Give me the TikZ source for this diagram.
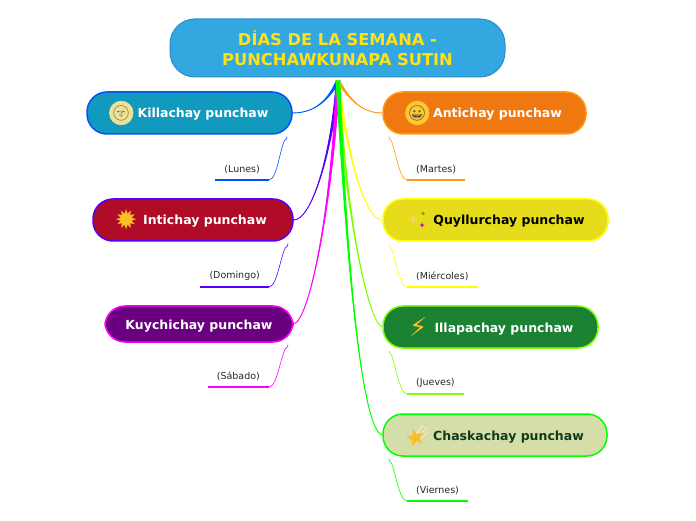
\documentclass[tikz,border=0pt]{standalone}
\usepackage{fontspec}
\setmainfont{DejaVu Sans}
\newfontfamily\emojifont{Noto Emoji}
\usetikzlibrary{calc,positioning}

\definecolor{rootblue}{RGB}{51,167,224}
\definecolor{rootedge}{RGB}{43,140,203}
\definecolor{rootgold}{RGB}{255,226,20}
\definecolor{lunesblue}{RGB}{0,85,255}
\definecolor{domingoviolet}{RGB}{85,0,255}
\definecolor{sabadopink}{RGB}{255,0,255}
\definecolor{martesorange}{RGB}{255,154,16}
\definecolor{miercolesyellow}{RGB}{255,255,0}
\definecolor{juevesgreen}{RGB}{128,255,0}
\definecolor{viernesgreen}{RGB}{0,255,0}
\definecolor{killafill}{RGB}{17,153,190}
\definecolor{intifill}{RGB}{176,12,40}
\definecolor{kuychifill}{RGB}{106,0,128}
\definecolor{antifill}{RGB}{240,120,16}
\definecolor{quyllurfill}{RGB}{230,220,28}
\definecolor{illapafill}{RGB}{27,130,51}
\definecolor{chaskafill}{RGB}{213,221,168}
\definecolor{chaskatext}{RGB}{15,59,26}
\definecolor{emojigold}{RGB}{250,190,40}
\definecolor{trailcream}{RGB}{245,232,170}

\tikzset{
  daypill/.style={draw, line width=1.5pt, rounded corners=20pt, minimum height=42, inner sep=0pt,
    text height=10pt, text depth=0pt, font=\fontsize{12.5}{15}\selectfont\bfseries},
  daynote/.style={inner xsep=9pt, inner ysep=6.2pt, text=black!85, font=\fontsize{9.5}{12}\selectfont},
  emojimark/.style={inner sep=0pt, font=\fontsize{20}{20}\selectfont},
  badge/.style={circle, inner sep=0pt, minimum size=21, font=\fontsize{15}{15}\selectfont\emojifont},
}
\newcommand{\spoke}[4]{\draw[#1, line width=.9pt, fill=#1] ($(hub)+(-1.8,0)$) .. controls (#3) and (#4) .. (#2) .. controls (#4) and (#3) .. ($(hub)+(1.8,0)$) -- cycle;}

\begin{document}
\begin{tikzpicture}[x=1pt,y=1pt]
  \useasboundingbox (0,0) rectangle (696,520);
  \coordinate (hub) at (338,439);

  \node[draw=rootedge, fill=rootblue, line width=1pt, rounded corners=25pt, minimum width=335, minimum height=58,
    align=center, text=rootgold, font=\fontsize{16.3}{20}\selectfont\bfseries] (root) at (337.5,472)
    {\raisebox{1pt}{DÍAS DE LA SEMANA -}\\\raisebox{1pt}{PUNCHAWKUNAPA SUTIN}};

  % left side
  \node[daypill, minimum width=205, draw=lunesblue, fill=killafill, text=white] (killa) at (189.5,407) {\hspace*{27pt}Killachay punchaw};
  \node[daypill, minimum width=200, draw=domingoviolet, fill=intifill, text=white] (inti) at (193,300) {\hspace*{24pt}Intichay punchaw};
  \node[daypill, minimum width=188, minimum height=36, draw=sabadopink, fill=kuychifill, text=white] (kuychi) at (199,196) {Kuychichay punchaw};

  % right side
  \node[daypill, minimum width=203, draw=martesorange, fill=antifill, text=white] (anti) at (484.5,407) {\hspace*{26pt}Antichay punchaw};
  \node[daypill, minimum width=225, draw=miercolesyellow, fill=quyllurfill, text=black] (quyllur) at (495.5,300) {\hspace*{27pt}Quyllurchay punchaw};
  \node[daypill, minimum width=215, draw=juevesgreen, fill=illapafill, text=white] (illapa) at (490.5,193) {\hspace*{27pt}Illapachay punchaw};
  \node[daypill, minimum width=224, draw=viernesgreen, fill=chaskafill, text=chaskatext] (chaska) at (495,85) {\hspace*{27pt}Chaskachay punchaw};

  % emoji
  \node[badge, fill={rgb,255:red,238;green,226;blue,150}, text=black!60] (moon) at ($(killa.west)+(35,0)$) {🌝};
  \node[emojimark, text=emojigold, font=\fontsize{27}{27}\selectfont] (sun) at ($(inti.west)+(34,0)$) {✹};
  \node[badge, fill={rgb,255:red,255;green,200;blue,50}, text=black!75] (grin) at ($(anti.west)+(35,0)$) {😀};
  \node[emojimark, text=emojigold!70, font=\fontsize{16}{16}\selectfont] (spark) at ($(quyllur.west)+(31,0)$) {✦};
  \node[emojimark, text=juevesgreen!70!black, font=\fontsize{7}{7}\selectfont] (sparkb) at ($(quyllur.west)+(41,6)$) {✦};
  \node[emojimark, text=sabadopink!80!black, font=\fontsize{8}{8}\selectfont] (sparkc) at ($(quyllur.west)+(40,-6)$) {✦};
  \node[emojimark, text=emojigold, font=\fontsize{26}{26}\selectfont] (bolt) at ($(illapa.west)+(36,0)$) {⚡};
  \draw[trailcream, line width=1.5pt] ($(chaska.west)+(37,-1)$) -- ($(chaska.west)+(45,8)$) ($(chaska.west)+(39,-3)$) -- ($(chaska.west)+(46,3)$) ($(chaska.west)+(34,1)$) -- ($(chaska.west)+(41,10)$);
  \node[emojimark, text=emojigold, rotate=15, font=\fontsize{24}{24}\selectfont] (star) at ($(chaska.west)+(33,-2)$) {★};

  % day names under the pills
  \node[daynote, anchor=south east] (lunes) at (269,340) {(Lunes)};
  \node[daynote, anchor=south east] (domingo) at (269,233) {(Domingo)};
  \node[daynote, anchor=south east] (sabado) at (269,133) {(Sábado)};
  \node[daynote, anchor=south west] (martes) at (407,340) {(Martes)};
  \node[daynote, anchor=south west] (miercoles) at (407,233) {(Miércoles)};
  \node[daynote, anchor=south west] (jueves) at (407,126) {(Jueves)};
  \node[daynote, anchor=south west] (viernes) at (407,19) {(Viernes)};

  % spokes from the title
  \spoke{lunesblue}{killa.east}{326,415}{310,407}
  \spoke{domingoviolet}{inti.east}{331,362}{311,300}
  \spoke{sabadopink}{kuychi.east}{331,305}{309,200}
  \spoke{martesorange}{anti.west}{350,420}{362,407}
  \spoke{miercolesyellow}{quyllur.west}{347,365}{365,300}
  \spoke{juevesgreen}{illapa.west}{345,310}{368,197}
  \spoke{viernesgreen}{chaska.west}{347,250}{362,90}

  % underlines and thin links
  \foreach \note/\day/\tint in {lunes/killa/lunesblue,domingo/inti/domingoviolet,sabado/kuychi/sabadopink}{
    \draw[\tint, line width=2.4pt] (\note.south west) -- (\note.south east);
    \draw[\tint, line width=.6pt] (\note.south east) .. controls +(9,0) and ($(\day.south east)+(-12,-4)$) .. ($(\day.south east)+(-6,-4)$) -- ($(\day.south east)+(-6,-2)$);
  }
  \foreach \note/\day/\tint in {martes/anti/martesorange,miercoles/quyllur/miercolesyellow,jueves/illapa/juevesgreen,viernes/chaska/viernesgreen}{
    \draw[\tint, line width=2.4pt] (\note.south west) -- (\note.south east);
    \draw[\tint, line width=.6pt] (\note.south west) .. controls +(-9,0) and ($(\day.south west)+(12,-4)$) .. ($(\day.south west)+(7,-4)$) -- ($(\day.south west)+(7,-2)$);
  }
\end{tikzpicture}
\end{document}
